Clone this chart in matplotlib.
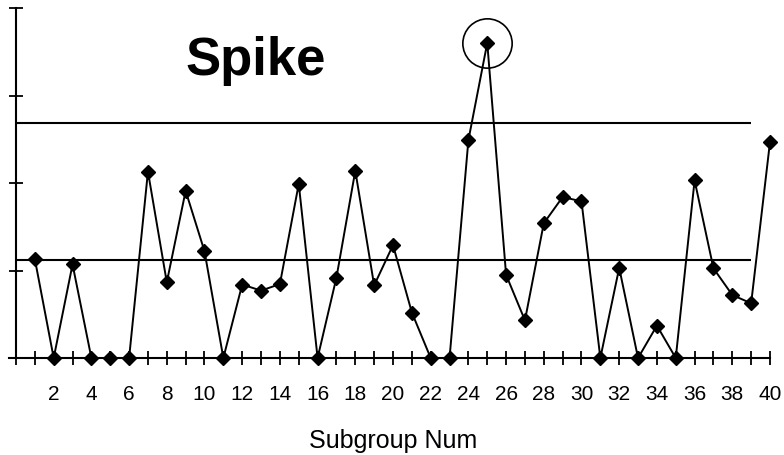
import matplotlib
matplotlib.use("Agg")
import matplotlib.pyplot as plt

subgroups = list(range(1, 41))
values = [1.13, 0, 1.07, 0, 0, 0, 2.13, 0.865, 1.91, 1.22,
          0, 0.84, 0.77, 0.845, 1.99, 0, 0.92, 2.14, 0.83, 1.29,
          0.52, 0, 0, 2.49, 3.6, 0.95, 0.43, 1.54, 1.84, 1.79,
          0, 1.03, 0, 0.37, 0, 2.03, 1.025, 0.72, 0.625, 2.47]
center_line = 1.12
upper_limit = 2.69
limit_span = [0, 39]
spike_index = 25
x_tick_labels = [str(i) for i in range(2, 41, 2)]
title_text = "Spike"
x_label = "Subgroup Num"

plt.rcParams['font.family'] = ['Liberation Sans', 'DejaVu Sans']

W, H = 784, 456
fig = plt.figure(figsize=(W / 100, H / 100), dpi=100)
left_px, right_px, bottom_px, top_px = 9.4, 770, 359, 9
ax = fig.add_axes([left_px / W, (H - bottom_px) / H,
                   (right_px - left_px) / W, (bottom_px - top_px) / H])
ax.set_xlim(-0.35, 40)
ax.set_ylim(0, 4)

ax.plot(limit_span, [upper_limit, upper_limit], color='black', lw=1.5, solid_capstyle='butt')
ax.plot(limit_span, [center_line, center_line], color='black', lw=1.5, solid_capstyle='butt')
ax.plot(subgroups, values, color='black', lw=1.4, marker='D', markersize=6.8,
        markerfacecolor='black', markeredgecolor='black', clip_on=False, zorder=3)
ax.plot([subgroups[spike_index - 1]], [values[spike_index - 1]], marker='o', markersize=35.5,
        markerfacecolor='none', markeredgecolor='black', markeredgewidth=1.2,
        linestyle='none', clip_on=False, zorder=4)

for s in ['top', 'right']:
    ax.spines[s].set_visible(False)
ax.spines['left'].set_position(('data', 0))
ax.spines['left'].set_linewidth(1.5)
ax.spines['bottom'].set_linewidth(1.5)

ax.set_yticks([0, 1, 2, 3, 4])
ax.set_yticklabels([])
ax.set_xticks(range(0, 41))
labels = ['' for _ in range(0, 41)]
for lab in x_tick_labels:
    labels[int(lab)] = lab
ax.set_xticklabels(labels)
ax.tick_params(axis='both', direction='inout', length=10, width=1.3, color='black')
ax.tick_params(axis='x', labelsize=15, pad=14)

fig.text(393.5 / W, (H - 448) / H, x_label, fontsize=18, ha='center', va='baseline')
fig.text(256 / W, (H - 75) / H, title_text, fontsize=38, fontweight='bold',
         ha='center', va='baseline')

fig.savefig('out.png', dpi=100)
